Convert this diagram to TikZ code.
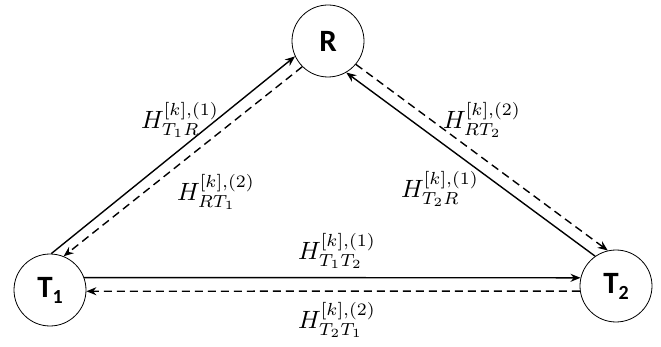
\documentclass[tikz,border=0pt]{standalone}
\usepackage{fontspec}
\newfontfamily\nodefont{Carlito}
\usetikzlibrary{arrows.meta}
\newcommand{\chlab}[1]{\scalebox{2.5}{$#1$}}
\begin{document}
\begin{tikzpicture}[x=1pt,y=-1pt,
  station/.style={circle,draw,line width=0.8pt,minimum size=72pt,inner sep=0pt,
    font=\nodefont\bfseries\fontsize{31}{33}\selectfont},
  link/.style={line width=1.4pt,-{Stealth[length=10pt,width=8pt]}},
  linkdash/.style={link,dash pattern=on 8pt off 5pt},
  lab/.style={inner sep=0pt}]
\useasboundingbox (0,0) rectangle (661,347);
\node[station] (R) at (328,41) {R};
\node[station] (T1) at (50,290) {T\raisebox{-6pt}{\fontsize{20}{21}\selectfont 1}};
\node[station] (T2) at (616,286) {T\raisebox{-6pt}{\fontsize{20}{21}\selectfont 2}};
\draw[link] (T1.88) -- (R.205);
\draw[linkdash] (R.225) -- (T1.68);
\draw[link] (T2.125) -- (R.-60);
\draw[linkdash] (R.-40) -- (T2.103);
\draw[link] (T1.20) -- (T2.167);
\draw[linkdash] (T2.188) -- (T1.-2);
\node[lab] (l1) at (180,120) {\chlab{H^{[k],(1)}_{T_1R}}};
\node[lab] (l2) at (216,192) {\chlab{H^{[k],(2)}_{RT_1}}};
\node[lab] (l3) at (482,120) {\chlab{H^{[k],(2)}_{RT_2}}};
\node[lab] (l4) at (440,189) {\chlab{H^{[k],(1)}_{T_2R}}};
\node[lab] (l5) at (337,251) {\chlab{H^{[k],(1)}_{T_1T_2}}};
\node[lab] (l6) at (337,320) {\chlab{H^{[k],(2)}_{T_2T_1}}};
\end{tikzpicture}
\end{document}
